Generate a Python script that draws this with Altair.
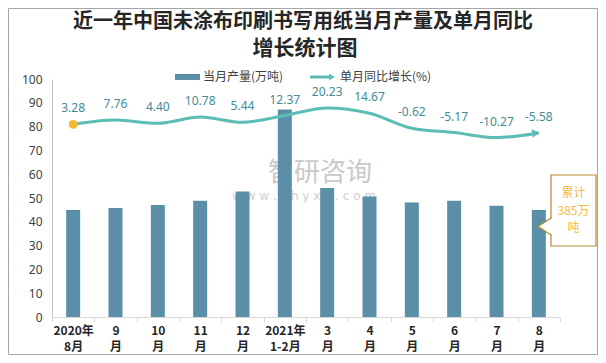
import altair as alt
import pandas as pd

months = ["2020年|8月", "9|月", "10|月", "11|月", "12|月", "2021年|1-2月",
          "3|月", "4|月", "5|月", "6|月", "7|月", "8|月"]
production = [45.0, 45.8, 47.1, 48.8, 52.7, 87.2, 54.2, 50.6, 48.1, 48.8, 46.7, 45.0]
growth = [3.28, 7.76, 4.40, 10.78, 5.44, 12.37, 20.23, 14.67, -0.62, -5.17, -10.27, -5.58]
growth_labels = ["3.28", "7.76", "4.40", "10.78", "5.44", "12.37", "20.23", "14.67",
                 "-0.62", "-5.17", "-10.27", "-5.58"]

title_lines = ["近一年中国未涂布印刷书写用纸当月产量及单月同比", "增长统计图"]
legend_labels = ["当月产量(万吨)", "单月同比增长(%)"]
callout_lines = ["累计", "385万", "吨"]

df = pd.DataFrame({"month": months, "production": production,
                   "growth": growth, "glabel": growth_labels})
one = pd.DataFrame({"a": [0]})

FONT = "Noto Sans CJK SC"
BAR = "#5B8FA7"
LINE = "#5BBDB3"
GOLD = "#B8892E"
GOLDTXT = "#F4B940"

xenc = alt.X("month:N", sort=months, title=None,
             scale=alt.Scale(paddingInner=0, paddingOuter=0),
             axis=alt.Axis(labelExpr="split(datum.label, '|')", labelAngle=0,
                           labelFont=FONT, labelFontSize=12, labelFontWeight="bold",
                           labelColor="#262626", labelLineHeight=16, labelPadding=3,
                           labelBaseline="top",
                           domainColor="#D9D9D9", tickColor="#D9D9D9", tickSize=5,
                           tickBand="extent"))

base = alt.Chart(df)

# decoration (behind)
border = alt.Chart(one).mark_rect(filled=False, stroke="#A6A6A6", strokeWidth=1).encode(
    x=alt.value(-43.5), x2=alt.value(545.5), y=alt.value(-70.5), y2=alt.value(275.5))
wm1 = alt.Chart(one).mark_text(text="智研咨询", font=FONT, fontSize=26, color="#C9C9C9").encode(
    x=alt.value(268), y=alt.value(94))
wm2 = alt.Chart(one).mark_text(text="w w w . c h y x x . c o m", font="DejaVu Sans", fontSize=12,
                               color="#CFCFCF").encode(x=alt.value(252), y=alt.value(117))

bars = base.mark_bar(size=14, color=BAR).encode(
    x=xenc,
    y=alt.Y("production:Q", title=None, scale=alt.Scale(domain=[0, 100]),
            axis=alt.Axis(values=list(range(0, 101, 10)), grid=False, ticks=False,
                          labelFont="Noto Sans", labelFontSize=12, labelColor="#404040",
                          labelPadding=10, domainColor="#BFBFBF")))

left_layer = alt.layer(border, wm1, wm2, bars)

yl = alt.Y("growth:Q", scale=alt.Scale(domain=[-195, 50]), axis=None)
line = base.mark_line(color=LINE, strokeWidth=3, interpolate="monotone").encode(x=xenc, y=yl)
arrow = base.transform_filter(alt.datum.month == months[-1]).mark_point(
    shape="triangle-right", filled=True, color=LINE, size=70, opacity=1, angle=352, xOffset=-3
).encode(x=xenc, y=yl)
dot = base.transform_filter(alt.datum.month == months[0]).mark_point(
    shape="circle", filled=True, color="#F5B82E", size=80, opacity=1
).encode(x=xenc, y=yl)
labels = base.mark_text(dy=-16, font="Noto Sans", fontSize=12, color="#3F8C97").encode(
    x=xenc, y=yl, text="glabel:N")

right_layer = alt.layer(line, arrow, dot, labels)

# titles
t1 = alt.Chart(one).mark_text(text=title_lines[0], font=FONT, fontSize=20, fontWeight="bold",
                              color="#262626").encode(x=alt.value(251), y=alt.value(-57))
t2 = alt.Chart(one).mark_text(text=title_lines[1], font=FONT, fontSize=21, fontWeight="bold",
                              color="#262626").encode(x=alt.value(253), y=alt.value(-30))

# legend
lg_bar = alt.Chart(one).mark_rect(color=BAR).encode(
    x=alt.value(123), x2=alt.value(148), y=alt.value(-5), y2=alt.value(1))
lg_t1 = alt.Chart(one).mark_text(text=legend_labels[0], font=FONT, fontSize=12, align="left",
                                 color="#404040").encode(x=alt.value(151), y=alt.value(-2))
lg_line = alt.Chart(one).mark_rule(color=LINE, strokeWidth=3).encode(
    x=alt.value(258), x2=alt.value(280), y=alt.value(-2))
lg_arrow = alt.Chart(one).mark_point(shape="triangle-right", filled=True, color=LINE, size=45,
                                     opacity=1).encode(x=alt.value(280), y=alt.value(-2))
lg_t2 = alt.Chart(one).mark_text(text=legend_labels[1], font=FONT, fontSize=12, align="left",
                                 color="#404040").encode(x=alt.value(288), y=alt.value(-2))

# callout
box = alt.Chart(one).mark_rect(fill="white", stroke=GOLD, strokeWidth=1.2).encode(
    x=alt.value(499), x2=alt.value(544), y=alt.value(96), y2=alt.value(167))
ptr_fill = alt.Chart(one).mark_point(shape="M 0.75 -1 L -1 0 L 0.75 1 Z", filled=True,
                                     color="white", opacity=1, size=289, strokeWidth=0).encode(
    x=alt.value(494.5), y=alt.value(147.5))
ptr_line = alt.Chart(one).mark_point(shape="M 0.53 -1 L -1 0 L 0.53 1", filled=False,
                                     stroke=GOLD, strokeWidth=1.2, opacity=1, size=289).encode(
    x=alt.value(494.5), y=alt.value(147.5))
c_texts = [alt.Chart(one).mark_text(text=t, font=FONT, fontSize=12, color=GOLDTXT).encode(
    x=alt.value(521.5), y=alt.value(yy)) for t, yy in zip(callout_lines, [114, 132, 149])]

chart = alt.layer(left_layer, right_layer, t1, t2, lg_bar, lg_t1, lg_line, lg_arrow, lg_t2,
                  box, ptr_fill, ptr_line, *c_texts).resolve_scale(y="independent").properties(
    width=508, height=238,
    autosize=alt.AutoSizeParams(type="none"),
    padding={"left": 44, "top": 71, "right": 38, "bottom": 38},
    background="white"
).configure_view(stroke=None)

chart.save("out.html", embed_options={"renderer": "svg", "actions": False})
